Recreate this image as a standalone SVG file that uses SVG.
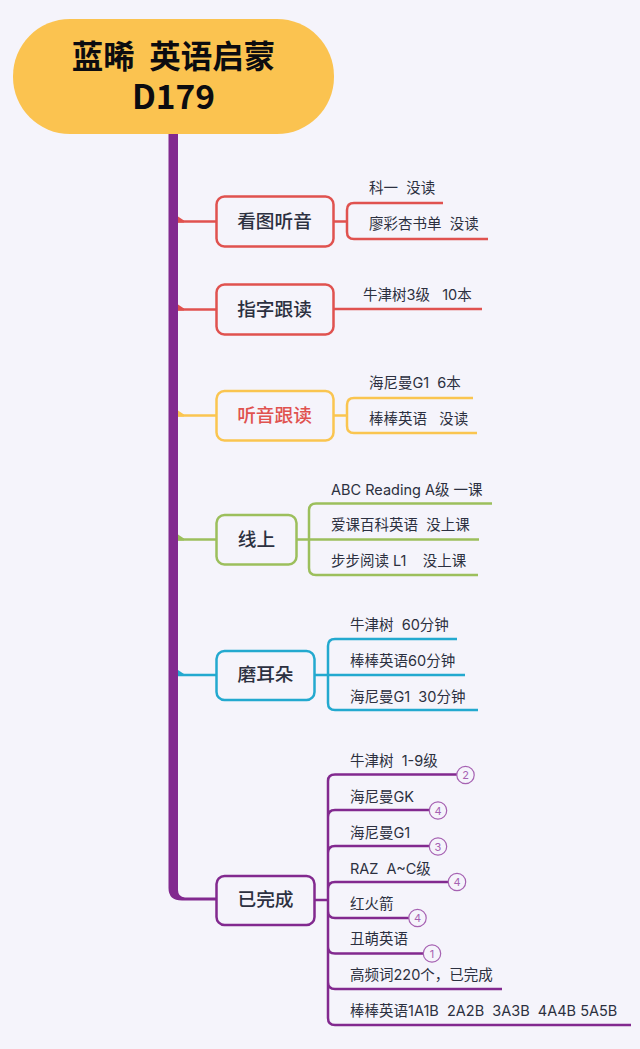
<svg xmlns="http://www.w3.org/2000/svg" width="640" height="1049" viewBox="0 0 640 1049">
<style>
text{font-family:"Inter","Noto Sans CJK SC",sans-serif;white-space:pre;fill:#2c3040}
.root{font-size:31.500px;font-weight:700;fill:#0c0c10;text-anchor:middle;font-family:"Noto Sans CJK SC",sans-serif}
.t{font-size:18.700px;font-weight:500;text-anchor:middle;font-family:"Noto Sans CJK SC",sans-serif}
.s{font-size:14.500px}
.n{fill:#f5f4fb;stroke-width:2.500}
.c{fill:none;stroke-width:2.500;stroke-linecap:butt}
.red{stroke:#e0524f}.yel{stroke:#fac550}.grn{stroke:#9cbf5c}.blu{stroke:#23a9cf}.pur{stroke:#82298f}
.b{fill:#f5f4fb;stroke:#a662b2;stroke-width:1.200}
.bt{font-size:11px;fill:#a662b2;text-anchor:middle}
</style>
<rect width="640" height="1049" fill="#f5f4fb"/>
<g id="connectors">
<path class="c red" d="M178 221.500H216"/><path class="c red" d="M178 309.500H216"/>
<path class="c yel" d="M178 415.500H216"/><path class="c grn" d="M178 539.500H216"/><path class="c blu" d="M178 675H216"/>
<path d="M178 216.500L184 220.500V222.500H178Z" fill="#e0524f"/><path d="M178 304.500L184 308.500V310.500H178Z" fill="#e0524f"/>
<path d="M178 410.500L184 414.500V416.500H178Z" fill="#fac550"/><path d="M178 534.500L184 538.500V540.500H178Z" fill="#9cbf5c"/><path d="M178 670L184 674V676H178Z" fill="#23a9cf"/>
<path d="M168.500 134H178V890Q178 897 185 897.500H216V900.500H182Q168.500 900.500 168.500 888Z" fill="#82298f"/>
<path class="c red" d="M334 221.500H347M443 203H354Q347 203 347 210V232Q347 239 354 239H488"/>
<path class="c red" d="M334 309H482"/>
<path class="c yel" d="M334 415.500H347M473 398H354Q347 398 347 405V426Q347 433 354 433H477"/>
<path class="c grn" d="M296 539.500H479M492 503.500H316Q309 503.500 309 510.500V568Q309 575 316 575H478"/>
<path class="c blu" d="M315 675H465M457 639H335Q328 639 328 646V703Q328 710 335 710H478"/>
<path class="c pur" d="M315 900H328M328 781Q328 774.500 335 774.500H457M328 817Q328 810 335 810H430M328 853Q328 846 335 846H430M328 889Q328 882 335 882H449M328 911Q328 918 335 918H410M328 947Q328 953.500 335 953.500H424M328 982Q328 989 335 989H502M328 781V1018Q328 1025 335 1025H631"/>
</g>
<g id="root"><rect x="13" y="19" width="321" height="115" rx="57" fill="#fbc350"/><text class="root" x="173.500" y="68">蓝晞  英语启蒙</text><text class="root" x="173.500" y="109" style="font-size:33.500px;font-weight:600">D179</text></g>
<g id="n1"><rect class="n red" x="216.500" y="196.500" width="117" height="50" rx="8"/><text class="t" x="274.500" y="228">看图听音</text></g>
<g id="n1a"><text class="s" x="369" y="193">科一  没读</text></g>
<g id="n1b"><text class="s" x="369" y="229">廖彩杏书单  没读</text></g>
<g id="n2"><rect class="n red" x="216.500" y="284.500" width="117" height="50" rx="8"/><text class="t" x="274.500" y="316">指字跟读</text></g>
<g id="n2a"><text class="s" x="363" y="300">牛津树3级   10本</text></g>
<g id="n3"><rect class="n yel" x="216.500" y="391" width="117" height="49.500" rx="8"/><text class="t" x="274.500" y="422" style="fill:#e0524f">听音跟读</text></g>
<g id="n3a"><text class="s" x="369" y="388">海尼曼G1  6本</text></g>
<g id="n3b"><text class="s" x="369" y="424">棒棒英语   没读</text></g>
<g id="n4"><rect class="n grn" x="216.500" y="515" width="80" height="49.500" rx="8"/><text class="t" x="256.500" y="546">线上</text></g>
<g id="n4a"><text class="s" x="331" y="495">ABC Reading A级 一课</text></g>
<g id="n4b"><text class="s" x="331" y="530">爱课百科英语  没上课</text></g>
<g id="n4c"><text class="s" x="331" y="566">步步阅读 L1    没上课</text></g>
<g id="n5"><rect class="n blu" x="216.500" y="651" width="98" height="49" rx="8"/><text class="t" x="265.500" y="681">磨耳朵</text></g>
<g id="n5a"><text class="s" x="350" y="630">牛津树  60分钟</text></g>
<g id="n5b"><text class="s" x="350" y="666">棒棒英语60分钟</text></g>
<g id="n5c"><text class="s" x="350" y="702">海尼曼G1  30分钟</text></g>
<g id="n6"><rect class="n pur" x="216.500" y="876" width="98" height="49" rx="8"/><text class="t" x="265.500" y="906">已完成</text></g>
<g id="n6a"><text class="s" x="350" y="766">牛津树  1-9级</text><circle class="b" cx="465.500" cy="775" r="8.700"/><text class="bt" x="465.500" y="779">2</text></g>
<g id="n6b"><text class="s" x="350" y="802">海尼曼GK</text><circle class="b" cx="438" cy="810.500" r="8.700"/><text class="bt" x="438" y="814.500">4</text></g>
<g id="n6c"><text class="s" x="350" y="838">海尼曼G1</text><circle class="b" cx="438" cy="846.500" r="8.700"/><text class="bt" x="438" y="850.500">3</text></g>
<g id="n6d"><text class="s" x="350" y="874">RAZ  A~C级</text><circle class="b" cx="457" cy="882" r="8.700"/><text class="bt" x="457" y="886">4</text></g>
<g id="n6e"><text class="s" x="350" y="909">红火箭</text><circle class="b" cx="417.500" cy="918" r="8.700"/><text class="bt" x="417.500" y="922">4</text></g>
<g id="n6f"><text class="s" x="350" y="944">丑萌英语</text><circle class="b" cx="432" cy="953.500" r="8.700"/><text class="bt" x="432" y="957.500">1</text></g>
<g id="n6g"><text class="s" x="350" y="980">高频词220个，已完成</text></g>
<g id="n6h"><text class="s" x="350" y="1016">棒棒英语1A1B  2A2B  3A3B  4A4B 5A5B</text></g>
</svg>
